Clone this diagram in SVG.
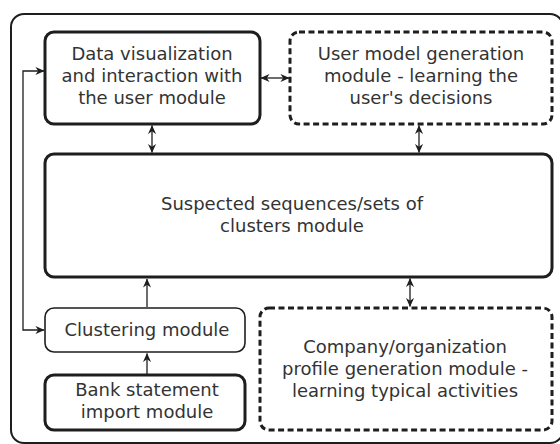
<svg xmlns="http://www.w3.org/2000/svg" width="560" height="444" viewBox="0 0 560 444">
<style>
.box{fill:#fff;stroke:#1e1e1e;stroke-width:3}
.thin{fill:#fff;stroke:#1e1e1e;stroke-width:1.6}
.dash{fill:#fff;stroke:#1e1e1e;stroke-width:3;stroke-dasharray:6 3.5}
.lbl{font-family:"DejaVu Sans",sans-serif;font-size:18px;fill:#333;text-anchor:middle}
.con{fill:none;stroke:#1e1e1e;stroke-width:1.3}
</style>
<defs>
<marker id="ah" viewBox="0 0 10 10" refX="9.5" refY="5" markerWidth="9" markerHeight="9" markerUnits="userSpaceOnUse" orient="auto-start-reverse">
<path d="M0,0.5 L10,5 L0,9.5 L3,5 Z" fill="#1e1e1e"/>
</marker>
</defs>
<rect id="frame" x="11" y="14" width="552" height="429" rx="13" fill="#fff" stroke="#1e1e1e" stroke-width="2"/>
<g id="connectors">
<path class="con" d="M261,78 H289" marker-start="url(#ah)" marker-end="url(#ah)"/>
<path class="con" d="M152,125.5 V152.5" marker-start="url(#ah)" marker-end="url(#ah)"/>
<path class="con" d="M419,125.5 V152.5" marker-start="url(#ah)" marker-end="url(#ah)"/>
<path class="con" d="M410,278.5 V306.5" marker-start="url(#ah)" marker-end="url(#ah)"/>
<path class="con" d="M147,307 V279" marker-end="url(#ah)"/>
<path class="con" d="M147,374 V353.5" marker-end="url(#ah)"/>
<path class="con" d="M44,330 H23 V71 H44" marker-start="url(#ah)" marker-end="url(#ah)"/>
</g>
<g id="dataviz">
<rect class="box" x="45" y="32" width="215" height="92" rx="9"/>
<text class="lbl" x="152" y="60">Data visualization</text>
<text class="lbl" x="152" y="82">and interaction with</text>
<text class="lbl" x="152" y="104">the user module</text>
</g>
<g id="usermodel">
<rect class="dash" x="290" y="32" width="262" height="92" rx="9"/>
<text class="lbl" x="421" y="60">User model generation</text>
<text class="lbl" x="421" y="82">module - learning the</text>
<text class="lbl" x="421" y="104">user's decisions</text>
</g>
<g id="suspected">
<rect class="box" x="45" y="154" width="507" height="123" rx="9"/>
<text class="lbl" x="292" y="210">Suspected sequences/sets of</text>
<text class="lbl" x="292" y="232">clusters module</text>
</g>
<g id="clustering">
<rect class="thin" x="45" y="308" width="200" height="44" rx="9"/>
<text class="lbl" x="147" y="336">Clustering module</text>
</g>
<g id="bank">
<rect class="box" x="45" y="375" width="200" height="55" rx="9"/>
<text class="lbl" x="147" y="396">Bank statement</text>
<text class="lbl" x="147" y="418">import module</text>
</g>
<g id="company">
<rect class="dash" x="260" y="308" width="292" height="122" rx="9"/>
<text class="lbl" x="405" y="353">Company/organization</text>
<text class="lbl" x="405" y="375">profile generation module -</text>
<text class="lbl" x="405" y="397">learning typical activities</text>
</g>
</svg>
